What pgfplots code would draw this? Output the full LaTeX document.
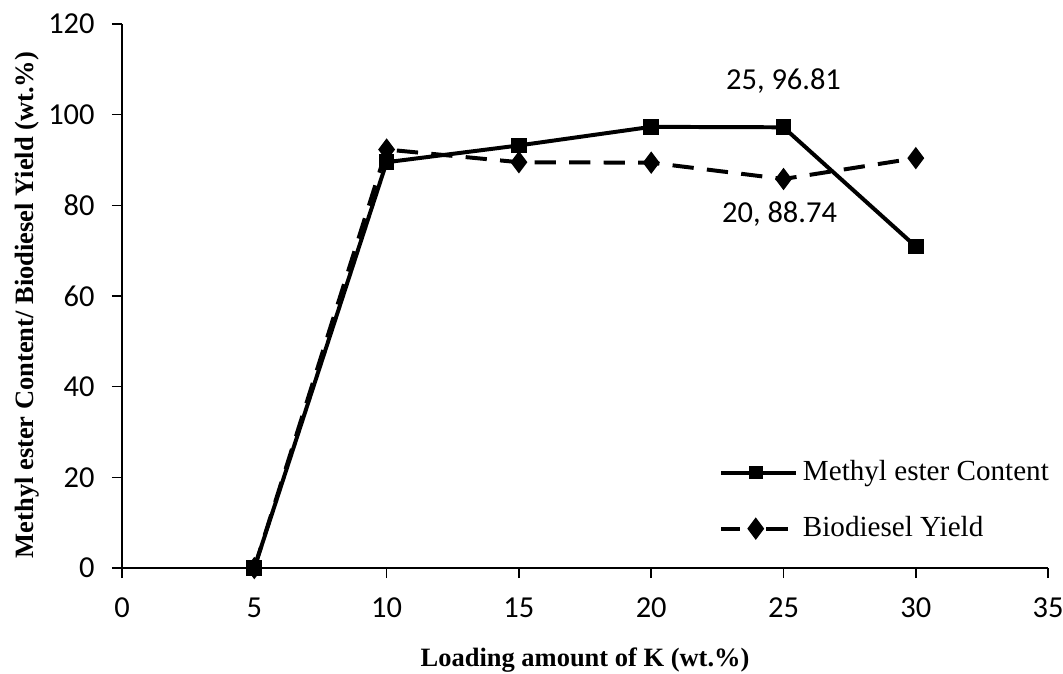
\documentclass[border=0pt]{standalone}
\usepackage{pgfplots}
\pgfplotsset{compat=1.18}
\usetikzlibrary{calc}
\usepackage{fontspec}
\setmainfont{Liberation Serif}
\newfontfamily\calib{Carlito}
\begin{document}
\begin{tikzpicture}
\begin{axis}[
  name=ax,
  scale only axis,
  width=348.4bp, height=204.7bp,
  xmin=0, xmax=35, ymin=0, ymax=120,
  xtick={0,5,...,35}, ytick={0,20,...,120},
  axis x line=bottom, axis y line=left,
  axis line style={-, line width=0.5pt},
  x axis line style={-}, y axis line style={-},
  tick style={black, line width=0.6pt},
  tick align=outside,
  major tick length=3.8bp,
  tick label style={font=\calib\fontsize{11.5}{13}\selectfont},
  /pgf/number format/assume math mode=true,
  xticklabel style={yshift=-4bp},
  yticklabel style={xshift=-3bp},
  xlabel={\bfseries Loading amount of K (wt.\%)},
  ylabel={\bfseries Methyl ester Content/ Biodiesel Yield (wt.\%)},
  label style={font=\fontsize{10}{12}\selectfont},
  xlabel style={at={(axis description cs:0.5,-0.169)}, anchor=center},
  ylabel style={at={(axis description cs:-0.1025,0.4835)}, anchor=center, rotate=0},
  legend style={draw=none, fill=none, at={(axis cs:22.55,25)}, anchor=north west,
    font=\fontsize{11}{13}\selectfont, row sep=8bp, inner sep=0pt},
  legend cell align=left,
  clip=false,
]
\addplot[black, line width=1.5pt, mark=square*, mark size=2.2pt,
  legend image code/.code={\draw[black, line width=1.5pt] (0bp,0bp) -- (28bp,0bp); \path[black] plot[mark=square*, mark size=1.8pt] coordinates {(13bp,0bp)};}] coordinates {
  (5,0) (10,89.5) (15,93.2) (20,97.3) (25,97.2) (30,70.9)};
\addlegendentry{Methyl ester Content}
\addplot[black, line width=1.5pt, dash pattern=on 8bp off 5bp, mark=diamond*, mark size=3pt, mark options={solid},
  legend image code/.code={\draw[black, line width=1.5pt] (0bp,0bp) -- (7bp,0bp) (17bp,0bp) -- (26bp,0bp); \path[black] plot[mark=diamond*, mark size=3pt] coordinates {(13bp,0bp)};}] coordinates {
  (5,0) (10,92.3) (15,89.5) (20,89.4) (25,85.8) (30,90.4)};
\addlegendentry{Biodiesel Yield}
\node[font=\calib\fontsize{11.5}{13}\selectfont] at (axis cs:25.0,107.5) {25, 96.81};
\node[font=\calib\fontsize{11.5}{13}\selectfont] at (axis cs:24.85,78.0) {20, 88.74};
\end{axis}
\pgfresetboundingbox
\useasboundingbox ($(ax.south west)+(-45.9bp,-39.5bp)$) rectangle ($(ax.north east)+(5.6bp,9.0bp)$);
\end{tikzpicture}
\end{document}
